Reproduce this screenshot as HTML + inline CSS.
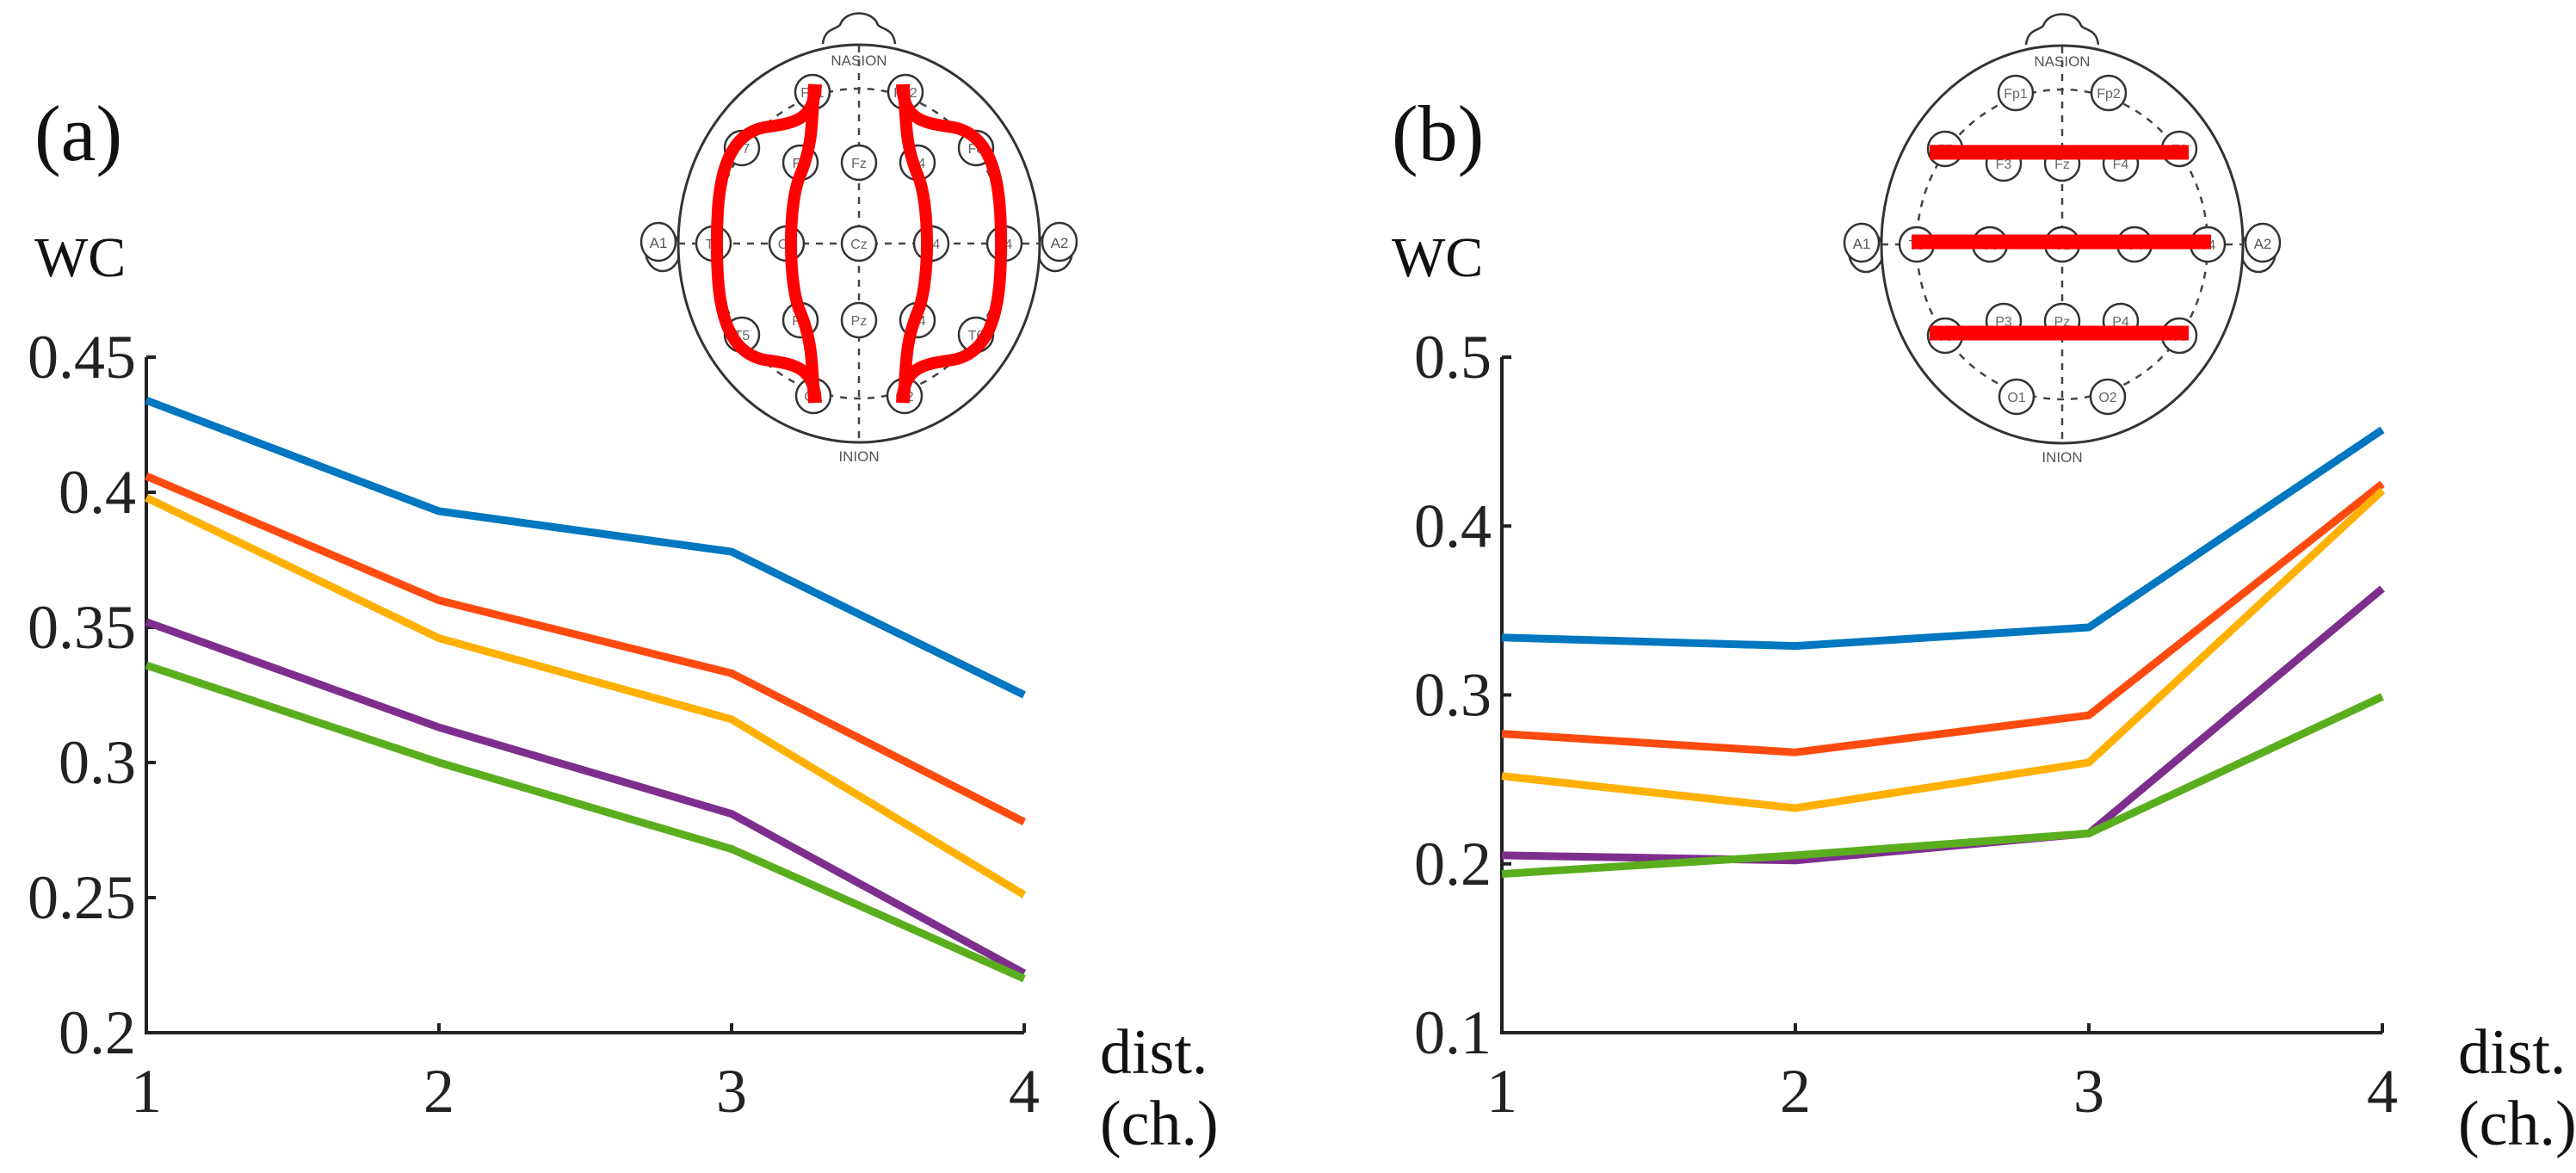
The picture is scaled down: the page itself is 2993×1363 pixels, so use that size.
<!DOCTYPE html>
<html><head><meta charset="utf-8"><style>
html,body{margin:0;padding:0;background:#fff;}
svg{display:block;}
</style></head><body>
<svg id="fig" width="2993" height="1363" viewBox="0 0 2993 1363" xmlns="http://www.w3.org/2000/svg">
<g id="panelA"></g>
<g id="panelB"></g>
</svg>
<script>
// ---- Data ----
const categories = [1, 2, 3, 4];
const seriesColors = ["#0077C0", "#FF4B10", "#FFB000", "#7E2F8E", "#5AAE1E"];
const seriesNames = ["blue", "orange", "yellow", "purple", "green"];
const aBlue = [0.434, 0.393, 0.378, 0.325];
const aOrange = [0.406, 0.360, 0.333, 0.278];
const aYellow = [0.398, 0.346, 0.316, 0.251];
const aPurple = [0.352, 0.313, 0.281, 0.222];
const aGreen = [0.336, 0.300, 0.268, 0.220];
const bBlue = [0.334, 0.329, 0.340, 0.457];
const bOrange = [0.277, 0.266, 0.288, 0.425];
const bYellow = [0.252, 0.233, 0.260, 0.421];
const bPurple = [0.205, 0.202, 0.218, 0.363];
const bGreen = [0.194, 0.205, 0.218, 0.299];
const aTicks = [0.2, 0.25, 0.3, 0.35, 0.4, 0.45];
const aTickLabels = ["0.2", "0.25", "0.3", "0.35", "0.4", "0.45"];
const bTicks = [0.1, 0.2, 0.3, 0.4, 0.5];
const bTickLabels = ["0.1", "0.2", "0.3", "0.4", "0.5"];

const NS = "http://www.w3.org/2000/svg";
const SERIF = "'Liberation Serif', 'DejaVu Serif', serif";
const SANS = "'Liberation Sans', 'DejaVu Sans', sans-serif";
function mk(parent, tag, attrs, text) {
  const e = document.createElementNS(NS, tag);
  for (const k in attrs) e.setAttribute(k, attrs[k]);
  if (text !== undefined) e.textContent = text;
  parent.appendChild(e);
  return e;
}

function drawPanel(g, cfg) {
  const xs = v => cfg.x0 + (v - categories[0]) / (categories[categories.length - 1] - categories[0]) * (cfg.x1 - cfg.x0);
  const ys = v => cfg.yb - (v - cfg.ymin) / (cfg.ymax - cfg.ymin) * (cfg.yb - cfg.yt);
  const lab = mk(g, "text", {x: cfg.labelX, y: 186, "font-size": 92, fill: "#111", "font-family": SERIF}, cfg.label);
  
  
  const wc = mk(g, "text", {x: cfg.labelX, y: 321, "font-size": 66, fill: "#111", "font-family": SERIF}, "WC");
  
  
  const ax = mk(g, "path", {d: `M${cfg.x0},${cfg.yt} V${cfg.yb} H${cfg.x1}`, fill: "none", stroke: "#222", "stroke-width": 4});
  
  
  cfg.ticks.forEach((t, i) => {
    const y = ys(t);
    const tk = mk(g, "line", {x1: cfg.x0, x2: cfg.x0 + 11, y1: y, y2: y, stroke: "#222", "stroke-width": 4});
    
    
    const tl = mk(g, "text", {x: cfg.x0 - 12, y: y + 24, "font-size": 72, fill: "#222", "text-anchor": "end", "font-family": SERIF}, cfg.tickLabels[i]);
    
    
  });
  categories.forEach(c => {
    const x = xs(c);
    const tk = mk(g, "line", {x1: x, x2: x, y1: cfg.yb, y2: cfg.yb - 11, stroke: "#222", "stroke-width": 4});
    
    
    const tl = mk(g, "text", {x: x, y: 1292, "font-size": 72, fill: "#222", "text-anchor": "middle", "font-family": SERIF}, String(c));
    
    
  });
  const d1 = mk(g, "text", {x: cfg.x1 + 88, y: 1247, "font-size": 74, fill: "#111", "font-family": SERIF}, "dist.");
  
  
  const d2 = mk(g, "text", {x: cfg.x1 + 88, y: 1330, "font-size": 74, fill: "#111", "font-family": SERIF}, "(ch.)");
  
  
  cfg.series.forEach((s, i) => {
    const pts = s.map((v, j) => xs(categories[j]).toFixed(1) + "," + ys(v).toFixed(1)).join(" ");
    const pl = mk(g, "polyline", {points: pts, fill: "none", stroke: seriesColors[i], "stroke-width": 9, "stroke-linejoin": "round"});
    
    
  });
}

function drawHead(g, cx, cy, kind) {
  const h = mk(g, "g", {});
  
  
  const st = {fill: "none", stroke: "#333", "stroke-width": 2.5};
  mk(h, "path", Object.assign({d: `M${cx-42},${cy-232} C${cx-40},${cy-250} ${cx-28},${cy-248} ${cx-22},${cy-254} C${cx-16},${cy-272} ${cx+16},${cy-272} ${cx+22},${cy-254} C${cx+28},${cy-248} ${cx+40},${cy-250} ${cx+42},${cy-232}`}, st));
  [-1, 1].forEach(sd => {
    mk(h, "ellipse", Object.assign({cx: cx + sd * 228, cy: cy + 8, rx: 20, ry: 24}, st));
    mk(h, "ellipse", {cx: cx + sd * 233, cy: cy - 2, rx: 20, ry: 22, fill: "#fff", stroke: "#333", "stroke-width": 2.5});
    mk(h, "text", {x: cx + sd * 233, y: cy + 5, "font-size": 17, "text-anchor": "middle", fill: "#555", "font-family": SANS}, sd < 0 ? "A1" : "A2");
  });
  mk(h, "ellipse", {cx: cx, cy: cy, rx: 210, ry: 231, fill: "#fff", stroke: "#333", "stroke-width": 3});
  const ds = {fill: "none", stroke: "#444", "stroke-width": 2.5, "stroke-dasharray": "8 8"};
  mk(h, "ellipse", Object.assign({cx: cx, cy: cy, rx: 169, ry: 180}, ds));
  mk(h, "line", Object.assign({x1: cx, x2: cx, y1: cy - 230, y2: cy + 231}, ds));
  mk(h, "line", Object.assign({x1: cx - 210, x2: cx + 210, y1: cy, y2: cy}, ds));
  mk(h, "text", {x: cx, y: cy - 207, "font-size": 17, "text-anchor": "middle", fill: "#555", "font-family": SANS}, "NASION");
  mk(h, "text", {x: cx, y: cy + 253, "font-size": 17, "text-anchor": "middle", fill: "#555", "font-family": SANS}, "INION");
  const el = [["Fp1",-54,-176],["Fp2",54,-176],["F7",-136,-111],["F3",-68,-94],["Fz",0,-94],["F4",68,-94],["F8",136,-111],
    ["T3",-169,0],["C3",-84,0],["Cz",0,0],["C4",84,0],["T4",169,0],
    ["T5",-136,106],["P3",-68,89],["Pz",0,89],["P4",68,89],["T6",136,106],["O1",-53,177],["O2",53,177]];
  el.forEach(e => {
    mk(h, "circle", {cx: cx + e[1], cy: cy + e[2], r: 20, fill: "#fff", stroke: "#333", "stroke-width": 2.5});
    mk(h, "text", {x: cx + e[1], y: cy + e[2] + 6, "font-size": 16, "text-anchor": "middle", fill: "#666", "font-family": SANS}, e[0]);
  });
  const rs = {fill: "none", stroke: "#FF0000", "stroke-width": 14, "stroke-linecap": "butt"};
  if (kind === "a") {
    [-1, 1].forEach(sd => {
      const p1 = mk(h, "path", Object.assign({d: `M${cx+sd*50},${cy-185} C${cx+sd*52},${cy-140} ${cx+sd*80},${cy-140} ${cx+sd*110},${cy-135} C${cx+sd*160},${cy-125} ${cx+sd*165},${cy-60} ${cx+sd*165},${cy} C${cx+sd*165},${cy+60} ${cx+sd*160},${cy+125} ${cx+sd*110},${cy+135} C${cx+sd*80},${cy+140} ${cx+sd*52},${cy+140} ${cx+sd*50},${cy+185}`}, rs));
      
      
      const p2 = mk(h, "path", Object.assign({d: `M${cx+sd*52},${cy-185} C${cx+sd*55},${cy-130} ${cx+sd*55},${cy-110} ${cx+sd*70},${cy-75} C${cx+sd*82},${cy-40} ${cx+sd*82},${cy+40} ${cx+sd*70},${cy+75} C${cx+sd*55},${cy+110} ${cx+sd*55},${cy+130} ${cx+sd*52},${cy+185}`}, rs));
      
      
    });
  } else {
    [[-154,147,-107],[-175,173,-3],[-154,147,103]].forEach(b => {
      const r = mk(h, "line", {x1: cx + b[0], x2: cx + b[1], y1: cy + b[2], y2: cy + b[2], stroke: "#FF0000", "stroke-width": 17});
      
      
    });
  }
}

const gA = document.getElementById("panelA");
const gB = document.getElementById("panelB");
drawHead(gA, 998, 283, "a");
drawHead(gB, 2396, 284, "b");
drawPanel(gA, {x0: 170, x1: 1190, yt: 415, yb: 1200, ymin: 0.2, ymax: 0.45, ticks: aTicks, tickLabels: aTickLabels, label: "(a)", labelX: 40,
  series: [aBlue, aOrange, aYellow, aPurple, aGreen]});
drawPanel(gB, {x0: 1745, x1: 2768, yt: 415, yb: 1200, ymin: 0.1, ymax: 0.5, ticks: bTicks, tickLabels: bTickLabels, label: "(b)", labelX: 1617,
  series: [bBlue, bOrange, bYellow, bPurple, bGreen]});
</script>
</body></html>
